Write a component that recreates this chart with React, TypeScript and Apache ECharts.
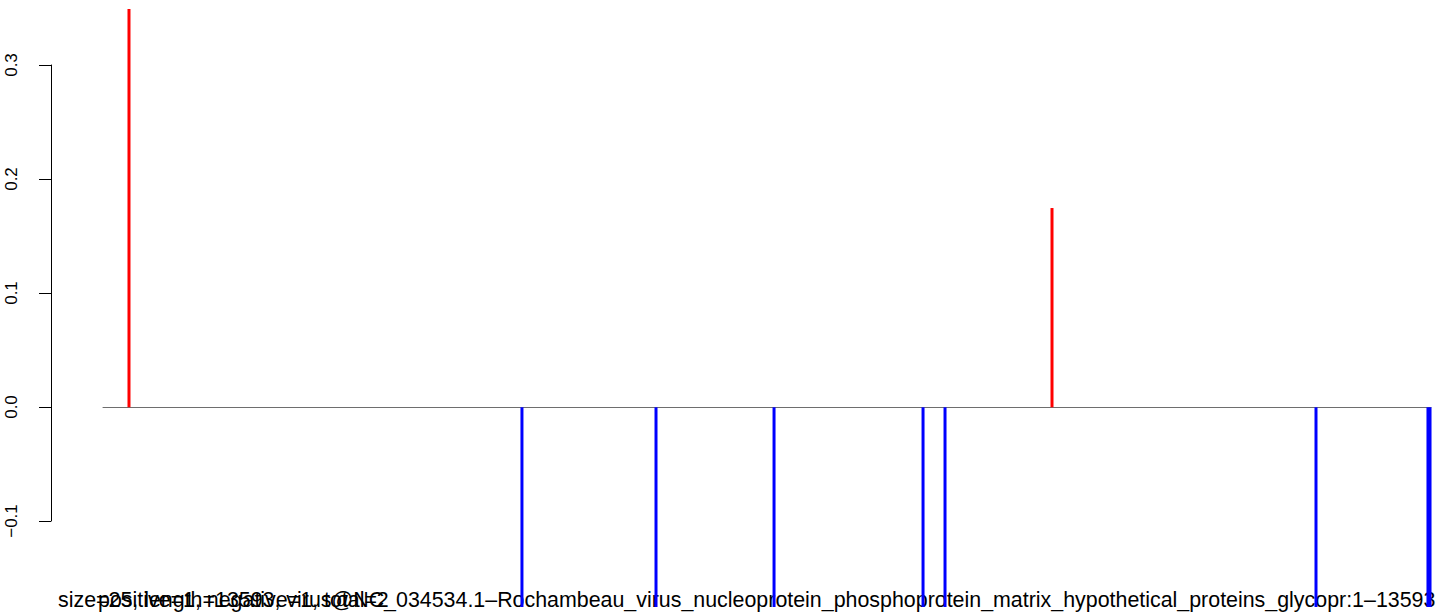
import React, { useEffect, useRef } from "react";
import * as echarts from "echarts";

const posSites = [267, 9714];
const posValues = [0.349, 0.1746];
const negSites = [4289, 5661, 6869, 8394, 8619, 12416, 13562, 13583];
const negValues = [-0.175, -0.175, -0.175, -0.175, -0.175, -0.175, -0.175, -0.175];
const xMin = 1;
const xMax = 13593;
const yTicks = [-0.1, 0, 0.1, 0.2, 0.3];
const titleMain =
  "size=25, length=13593, virus@NC_034534.1\u2013Rochambeau_virus_nucleoprotein_phosphoprotein_matrix_hypothetical_proteins_glycopr:1\u201313593";
const titleOverlay = "positive=1, negative=1, total=2";

export default function App() {
  const ref = useRef<HTMLDivElement>(null);
  useEffect(() => {
    if (!ref.current) return;
    const chart = echarts.init(ref.current, null, { renderer: "svg" });
    const data: any[] = [];
    posSites.forEach((s, i) =>
      data.push({ value: [s, posValues[i]], itemStyle: { color: "#ff0000" } })
    );
    negSites.forEach((s, i) =>
      data.push({ value: [s, negValues[i]], itemStyle: { color: "#0000ff" } })
    );
    const font = "'Liberation Sans', Arial, Helvetica, sans-serif";
    chart.setOption({
      animation: false,
      backgroundColor: "#ffffff",
      grid: [
        { left: 103, right: 10, top: 9, bottom: 6 },
        { left: 51, width: 1, top: 65, bottom: 92 },
      ],
      xAxis: [
        {
          type: "value",
          gridIndex: 0,
          min: xMin,
          max: xMax,
          axisLine: { show: true, onZero: true, lineStyle: { color: "#6e6e6e", width: 1 } },
          axisTick: { show: false },
          axisLabel: { show: false },
          splitLine: { show: false },
        },
        {
          type: "value",
          gridIndex: 1,
          show: false,
        },
      ],
      yAxis: [
        {
          type: "value",
          gridIndex: 0,
          min: -0.175,
          max: 0.349,
          show: false,
          splitLine: { show: false },
        },
        {
          type: "value",
          gridIndex: 1,
          min: yTicks[0],
          max: yTicks[yTicks.length - 1],
          interval: 0.1,
          axisLine: { show: true, lineStyle: { color: "#000", width: 1 } },
          axisTick: { show: true, length: 12, lineStyle: { color: "#000", width: 1 } },
          axisLabel: {
            rotate: 90,
            margin: 31,
            fontSize: 17,
            color: "#000",
            fontFamily: font,
            formatter: (v: number) => v.toFixed(1).replace("-", "\u2212"),
          },
          splitLine: { show: false },
        },
      ],
      series: [
        {
          type: "bar",
          xAxisIndex: 0,
          yAxisIndex: 0,
          barWidth: 3,
          clip: true,
          data,
        },
      ],
      graphic: [
        {
          type: "text",
          left: 58,
          top: 589,
          style: { text: titleMain, font: `21.4px ${font}`, fill: "#000" },
        },
        {
          type: "text",
          left: 98,
          top: 589,
          style: { text: titleOverlay, font: `21.4px ${font}`, fill: "#000" },
        },
      ],
    });
    return () => chart.dispose();
  }, []);
  return (
    <div
      ref={ref}
      style={{ position: "fixed", left: 0, top: 0, width: 1441, height: 613, background: "#fff" }}
    />
  );
}
